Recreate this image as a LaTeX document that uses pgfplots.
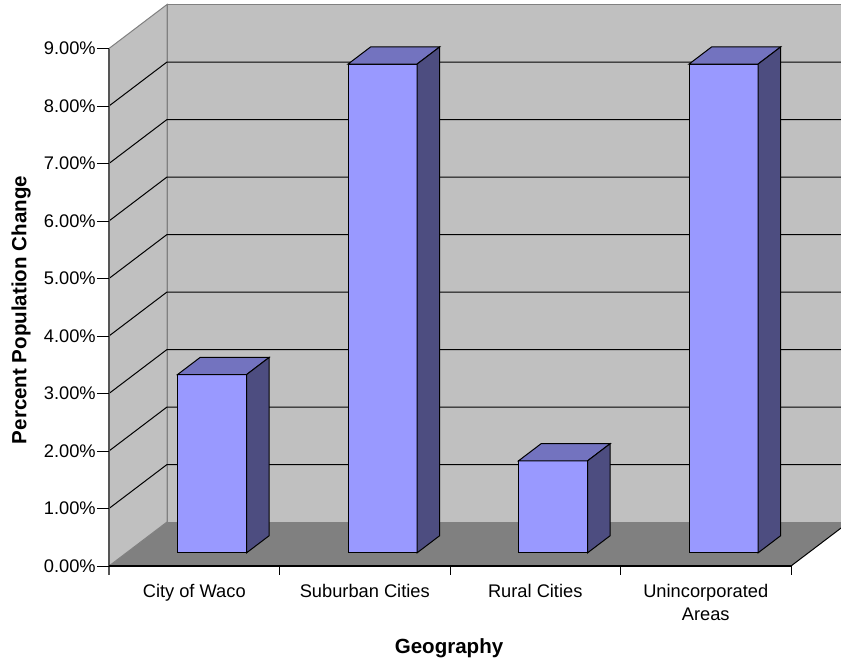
\documentclass[border=0pt]{standalone}
\usepackage{fontspec}
\setmainfont{Liberation Sans}
\usepackage{pgfplots}
\usepackage{pgfplotstable}
\pgfplotsset{compat=1.18}

\definecolor{wallgray}{HTML}{C0C0C0}
\definecolor{floorgray}{HTML}{808080}
\definecolor{edgegray}{HTML}{808080}
\definecolor{axisgray}{HTML}{555555}
\definecolor{barfront}{HTML}{9999FF}
\definecolor{bartop}{HTML}{7373BF}
\definecolor{barside}{HTML}{4D4D80}

% Percent population change by geography
\pgfplotstableread{
idx value
0 3.1
1 8.5
2 1.6
3 8.5
}\changetable

% oblique depth of the chart box: x in category units, y in percent
\def\dx{0.3402}
\def\dy{0.7652}

\begin{document}
\begin{tikzpicture}
\path[use as bounding box] (0,0) rectangle (630.75pt,492.75pt);
\clip (0,0) rectangle (630.75pt,492.75pt);
\begin{axis}[
  at={(81.75pt,68.25pt)}, anchor=south west,
  scale only axis, width=549pt, height=424.5pt,
  xmin=0, xmax=4.29326, ymin=0, ymax=9.84348,
  clip=false,
  axis line style={draw=none},
  major tick length=0pt,
  tick style={draw=none},
  xtick={0.5,1.5,2.5,3.5},
  xticklabels={\strut City of Waco, \strut Suburban Cities, \strut Rural Cities, {\strut Unincorporated\\Areas}},
  xticklabel style={anchor=north, inner sep=0pt, yshift=-11.2pt, align=center,
    font=\fontsize{13.7}{17.25}\selectfont},
  ytick={0,1,2,3,4,5,6,7,8,9},
  yticklabels={0.00\%,1.00\%,2.00\%,3.00\%,4.00\%,5.00\%,6.00\%,7.00\%,8.00\%,9.00\%},
  yticklabel style={anchor=east, inner sep=0pt, xshift=-9.75pt,
    font=\fontsize{13.7}{17.25}\selectfont},
  xlabel={Geography},
  ylabel={Percent Population Change},
  xlabel style={at={(axis description cs:0.4645,-0.1537)}, anchor=base,
    font=\fontsize{15.4}{18}\selectfont\bfseries},
  ylabel style={at={(axis description cs:-0.1202,0.4523)}, anchor=center,
    font=\fontsize{15.4}{18}\selectfont\bfseries},
  barface/.style={draw=black, line width=0.75pt, line join=miter},
]
% floor
\addplot[fill=floorgray, draw=none] coordinates {(0,0) (4,0) (4.3402,0.7652) (0.3402,0.7652)} --cycle;
% side and back walls
\addplot[fill=wallgray, draw=edgegray, line width=0.75pt] coordinates {(0,0) (0,9) (0.3402,9.7652) (0.3402,0.7652)} --cycle;
\addplot[fill=wallgray, draw=edgegray, line width=0.75pt] coordinates {(0.3402,0.7652) (0.3402,9.7652) (4.3402,9.7652) (4.3402,0.7652)} --cycle;
% right edge of the floor
\addplot[black, line width=0.75pt] coordinates {(4,0) (4.3402,0.7652)};
% major gridlines on side and back walls
\addplot[black, line width=0.75pt] coordinates {(0,1) (0.3402,1.7652) (4.3402,1.7652)};
\addplot[black, line width=0.75pt] coordinates {(0,2) (0.3402,2.7652) (4.3402,2.7652)};
\addplot[black, line width=0.75pt] coordinates {(0,3) (0.3402,3.7652) (4.3402,3.7652)};
\addplot[black, line width=0.75pt] coordinates {(0,4) (0.3402,4.7652) (4.3402,4.7652)};
\addplot[black, line width=0.75pt] coordinates {(0,5) (0.3402,5.7652) (4.3402,5.7652)};
\addplot[black, line width=0.75pt] coordinates {(0,6) (0.3402,6.7652) (4.3402,6.7652)};
\addplot[black, line width=0.75pt] coordinates {(0,7) (0.3402,7.7652) (4.3402,7.7652)};
\addplot[black, line width=0.75pt] coordinates {(0,8) (0.3402,8.7652) (4.3402,8.7652)};
% 3-D columns: front, top and side faces from each value
\pgfplotsforeachungrouped \i in {0,1,2,3}{%
  \pgfplotstablegetelem{\i}{value}\of\changetable
  \pgfmathsetmacro\xl{\i+0.30+0.30*\dx}%
  \pgfmathsetmacro\xr{\xl+0.405}%
  \pgfmathsetmacro\yb{0.30*\dy}%
  \pgfmathsetmacro\yt{\yb+\pgfplotsretval}%
  \pgfmathsetmacro\xlb{\xl+0.39*\dx}%
  \pgfmathsetmacro\xrb{\xr+0.39*\dx}%
  \pgfmathsetmacro\ybb{\yb+0.39*\dy}%
  \pgfmathsetmacro\ytb{\yt+0.39*\dy}%
  \edef\barcmd{%
    \noexpand\addplot[barface, fill=barfront] coordinates {(\xl,\yb) (\xr,\yb) (\xr,\yt) (\xl,\yt)} --cycle;
    \noexpand\addplot[barface, fill=bartop] coordinates {(\xl,\yt) (\xr,\yt) (\xrb,\ytb) (\xlb,\ytb)} --cycle;
    \noexpand\addplot[barface, fill=barside] coordinates {(\xr,\yb) (\xrb,\ybb) (\xrb,\ytb) (\xr,\yt)} --cycle;
  }%
  \barcmd
}
% value axis line and tick marks
\addplot[axisgray, line width=1.1pt] coordinates {(0,9) (0,0) (0,-0.1565)};
\pgfplotsinvokeforeach{0,1,2,3,4,5,6,7,8,9}{%
  \addplot[black, line width=0.75pt] coordinates {(-0.0704,#1) (0,#1)};
}
% category axis line and separator ticks
\addplot[black, line width=1.3pt] coordinates {(0,0) (4,0)};
\pgfplotsinvokeforeach{1,2,3,4}{%
  \addplot[black, line width=0.75pt] coordinates {(#1,0) (#1,-0.1565)};
}
\end{axis}
\end{tikzpicture}
\end{document}
